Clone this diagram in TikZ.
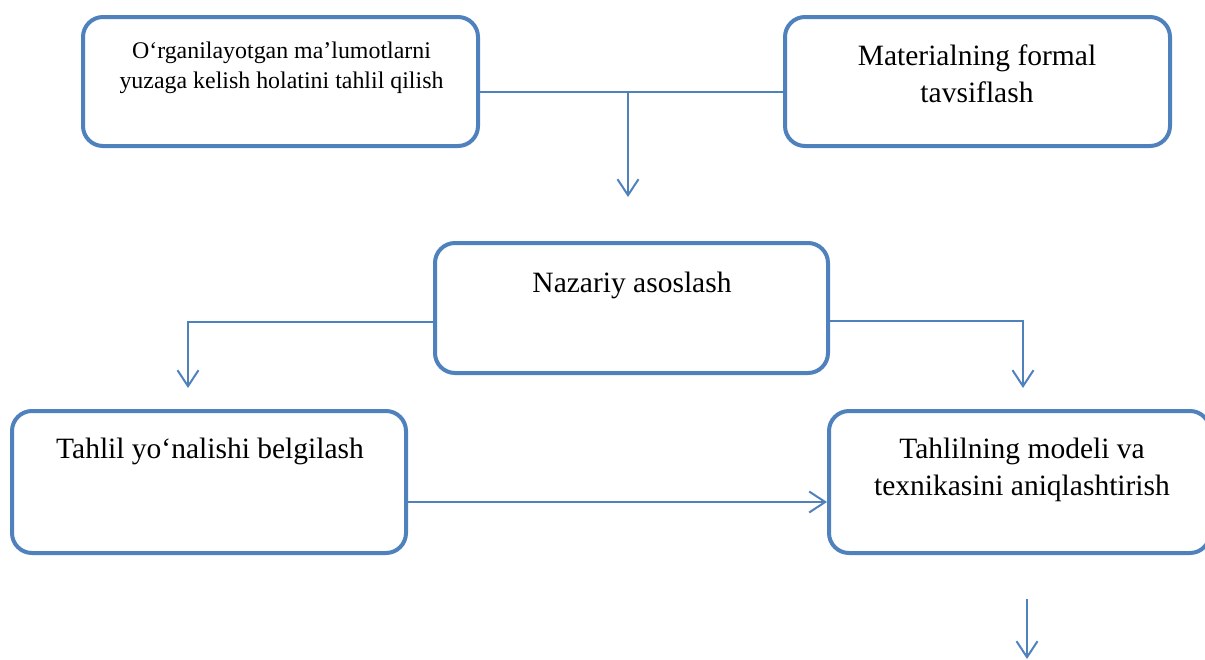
\documentclass[tikz,border=0pt]{standalone}
\usepackage{fontspec}
\setmainfont{Liberation Serif}
\usetikzlibrary{arrows.meta}
\definecolor{boxblue}{HTML}{4F81BD}
\tikzset{
  box/.style={draw=boxblue, line width=4pt, rounded corners=20pt, fill=white, inner sep=0pt},
  conn/.style={draw=boxblue, line width=2pt},
  arr/.style={conn, -{Straight Barb[length=16pt,width=21pt,line width=2pt]}},
  bigtxt/.style={inner sep=0pt, align=center, anchor=base, font=\fontsize{29.5}{37}\selectfont},
  smalltxt/.style={inner sep=0pt, align=center, anchor=base, font=\fontsize{23.9}{30}\selectfont}
}
\begin{document}
\begin{tikzpicture}[x=1pt,y=-1pt]
\useasboundingbox (0,0) rectangle (1205,659);
% boxes
\node[box, minimum width=395pt, minimum height=129pt] (b1) at (280.5,81.5) {};
\node[box, minimum width=385pt, minimum height=129pt] (b2) at (977.5,81.5) {};
\node[box, minimum width=393pt, minimum height=130pt] (b3) at (631.5,308) {};
\node[box, minimum width=394pt, minimum height=142pt] (b4) at (209,482) {};
\node[box, minimum width=381pt, minimum height=142pt] (b5) at (1019.5,482) {};
% texts (base anchor = baseline of last line)
\node[smalltxt] (t1) at (281.5,88) {O‘rganilayotgan ma’lumotlarni\\yuzaga kelish holatini tahlil qilish};
\node[bigtxt] (t2) at (977,102) {Materialning formal\\tavsiflash};
\node[bigtxt] (t3) at (632,292) {Nazariy asoslash};
\node[bigtxt] (t4) at (210,458) {Tahlil yo‘nalishi belgilash};
\node[bigtxt] (t5) at (1022,495) {Tahlilning modeli va\\texnikasini aniqlashtirish};
% connector coordinates
\coordinate (j1) at (628,92);
\coordinate (e1) at (628,197);
\coordinate (j2) at (188,322);
\coordinate (e2) at (188,388);
\coordinate (j3) at (1023,321);
\coordinate (e3) at (1023,388);
\coordinate (j4) at (0,502);
\coordinate (s5) at (1027,599);
\coordinate (e5) at (1027,659);
% connectors
\draw[conn] (b1.east |- j1) -- (b2.west |- j1);
\draw[arr] (j1) -- (e1);
\draw[arr] (b3.west |- j2) -- (j2) -- (e2);
\draw[arr] (b3.east |- j3) -- (j3) -- (e3);
\draw[arr] (b4.east |- j4) -- (b5.west |- j4);
\draw[arr] (s5) -- (e5);
\end{tikzpicture}
\end{document}
